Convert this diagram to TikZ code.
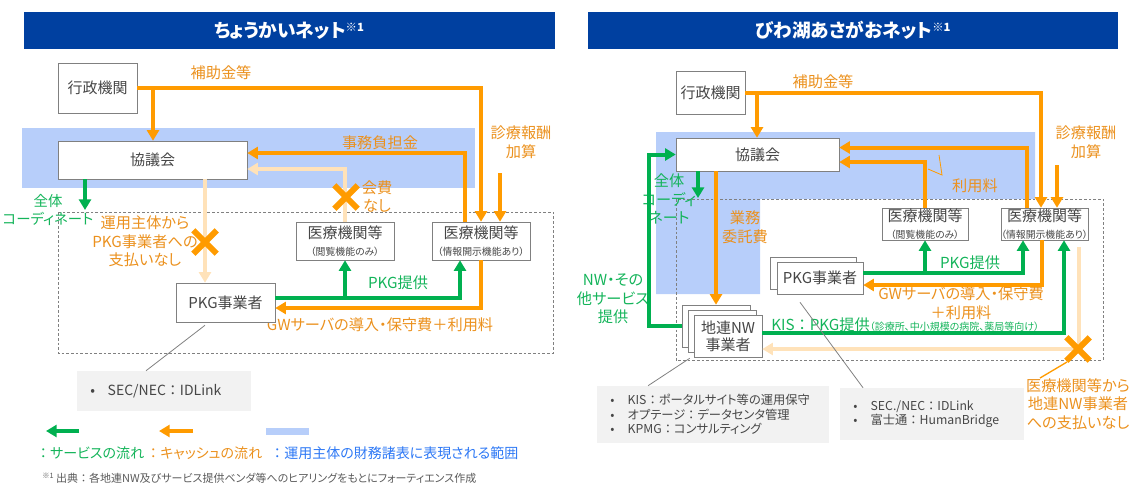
\documentclass[tikz,border=0pt]{standalone}
\usepackage{fontspec}
\setmainfont{Noto Sans CJK JP}[RawFeature=+palt]
\usepackage{tikz}
\usetikzlibrary{arrows.meta, calc, shapes.misc}

\definecolor{azultit}{RGB}{0,64,160}
\definecolor{azulrango}{RGB}{183,206,250}
\definecolor{azultxt}{RGB}{45,120,245}
\definecolor{naranja}{RGB}{255,155,0}
\definecolor{naranjatxt}{RGB}{235,145,30}
\definecolor{melocoton}{RGB}{255,226,185}
\definecolor{verde}{RGB}{0,176,80}
\definecolor{verdetxt}{RGB}{20,180,90}
\definecolor{gris}{RGB}{128,128,128}
\definecolor{textogris}{RGB}{70,70,70}
\definecolor{grisclaro}{RGB}{242,242,242}
\definecolor{grisnota}{RGB}{90,90,90}

\newcommand{\pxu}{0.75pt}
\newcommand{\subcaja}[1]{{\fontsize{7.4}{9}\selectfont #1}}
\newcommand{\vineta}{\makebox[13pt][l]{•}}
\newcommand{\dospt}{\makebox[1em][c]{：}}
\newcommand{\notauno}{\raisebox{4.5pt}{\fontsize{8.5}{9}\selectfont ※1}}

\begin{document}
\begin{tikzpicture}[x=0.75pt, y=-0.75pt,
    caja/.style 2 args={draw=gris, fill=white, text=textogris, inner sep=0pt,
        minimum width=#1*\pxu, minimum height=#2*\pxu, align=center,
        font=\fontsize{11.25}{12.5}\selectfont},
    titulo/.style={text=white, inner sep=0pt, font=\fontsize{14}{16}\selectfont\bfseries},
    etiq/.style={inner sep=0pt, align=center, font=\fontsize{11.4}{14}\selectfont},
    etiqnar/.style={etiq, text=naranjatxt},
    etiqver/.style={etiq, text=verdetxt},
    flujo/.style={line width=3pt, -{Triangle[width=9pt,length=8pt]}},
    efectivo/.style={flujo, draw=naranja},
    servicio/.style={flujo, draw=verde},
    sinpago/.style={flujo, draw=melocoton},
    cruz/.style={cross out, draw=naranja, line width=4.5pt, minimum size=13pt, inner sep=0pt},
    guia/.style={draw=gris, line width=0.6pt},
    punteado/.style={draw=gris, line width=0.7pt, dash pattern=on 2pt off 1.5pt},
    nota/.style 2 args={fill=grisclaro, text=textogris, align=left, inner xsep=10pt,
        inner ysep=0pt, text width=#1, minimum height=#2, font=\fontsize{9.2}{10.9}\selectfont},
    leyenda/.style={anchor=west, inner sep=0pt, font=\fontsize{10.5}{12}\selectfont}]
    \useasboundingbox (0,0) rectangle (1137,490);

    % Rango de los estados financieros
    \fill[azulrango] (22,128) rectangle (475,188);
    \fill[azulrango] (656,132) -- (1035,132) -- (1035,199) -- (760,199)
        -- (760,294) -- (656,294) -- cycle;

    % Barras de titulo
    \fill[azultit] (24,12) rectangle (555,49);
    \fill[azultit] (588,12) rectangle (1118,49);
    \node[titulo] (titL) at (289,30.5) {ちょうかいネット\notauno};
    \node[titulo] (titR) at (853,30.5) {びわ湖あさがおネット\notauno};

    % Zonas punteadas
    \draw[punteado] (58,212) rectangle (553,353);
    \draw[punteado] (676,199) rectangle (1103,360);

    % Etiquetas (izquierda)
    \node[etiqnar] (subL) at (221,73) {補助金等};
    \node[etiqnar] (jimL) at (380,143) {事務負担金};
    \node[etiqnar] (shinTxtL) at (521,142.5) {診療報酬\\加算};
    \node[etiqnar] (kaihiL) at (377,196.5) {会費\\なし};
    \node[etiqver, font=\fontsize{10.8}{13.5}\selectfont] (coordL) at (48,210) {全体\\コーディネート};
    \node[etiqnar] (noPagoL) at (145,241.5) {運用主体から\\PKG事業者への\\支払いなし};
    \node[etiqver] (pkgTxtL) at (398,283) {PKG提供};
    \node[etiqnar] (gwL) at (380,325) {GWサーバの導入・保守費＋利用料};

    % Etiquetas (derecha)
    \node[etiqnar] (subR) at (823,82) {補助金等};
    \node[etiqnar] (shinTxtR) at (1086,142.5) {診療報酬\\加算};
    \node[etiqnar] (riyoR) at (975,186) {利用料};
    \node[etiqver] (coordR) at (669,199) {全体\\コーディ\\ネート};
    \node[etiqnar] (itakuR) at (745,227.5) {業務\\委託費};
    \node[etiqver] (nwR) at (613,299) {NW・その\\他サービス\\提供};
    \node[etiqver] (pkgTxtR) at (970,263) {PKG提供};
    \node[etiqnar] (gwR) at (961,303.5) {GWサーバの導入・保守費\\＋利用料};
    \node[etiqver, anchor=west] (kisR) at (771,325)
        {KIS\dospt PKG提供{\fontsize{7.5}{9}\selectfont （診療所、中小規模の病院、薬局等向け）}};
    \node[etiqnar] (noPagoR) at (1078,404) {医療機関等から\\地連NW事業者\\への支払いなし};

    % Cajas (izquierda)
    \node[caja={79}{50}] (gyoL) at (97.5,88) {行政機関};
    \node[caja={189}{38}] (kyoL) at (152.5,160) {協議会};
    \node[caja={98}{38}] (iryoLa) at (345,241) {医療機関等\\\subcaja{（閲覧機能のみ）}};
    \node[caja={98}{38}] (iryoLb) at (481,241) {医療機関等\\\subcaja{（情報開示機能あり）}};
    \node[caja={99}{39}] (pkgL) at (225.5,302.5) {PKG事業者};

    % Cajas (derecha)
    \node[caja={69}{43}] (gyoR) at (710.5,92.5) {行政機関};
    \node[caja={163}{33}] (kyoR) at (757.5,154.5) {協議会};
    \node[caja={86}{32}] (iryoRa) at (925,224) {医療機関等\\\subcaja{（閲覧機能のみ）}};
    \node[caja={87}{32}] (iryoRb) at (1044.5,224) {医療機関等\\\subcaja{（情報開示機能あり）}};
    \node[caja={86}{32}] (pkgR1) at (813,273) {};
    \node[caja={86}{32}] (pkgR) at (820,278) {PKG事業者};
    \foreach \d in {2,1} {
        \node[caja={68}{42}] (chiren\d) at ({728-6*\d},{336-5*\d}) {};
    }
    \node[caja={68}{42}] (chiren) at (728,336) {地連NW\\事業者};

    % Flujos (izquierda)
    \coordinate (bifL) at (153,88);
    \coordinate (shinL) at (500,173);
    \coordinate (cooL) at (85,210);
    \coordinate (pagoL) at (205,0);
    \coordinate (pkgLo) at ($(pkgL.east)+(0,-4.5)$);
    \draw[efectivo] (gyoL.east) -| (iryoLb.north);
    \draw[efectivo] (bifL) -- (bifL |- kyoL.north);
    \draw[efectivo] (shinL) -- (shinL |- iryoLb.north);
    \draw[efectivo] ($(iryoLb.north)+(-16,0)$) |- ($(kyoL.east)+(0,-7)$);
    \draw[sinpago] (iryoLa.north) |- ($(kyoL.east)+(0,9)$);
    \draw[servicio] (kyoL.south -| cooL) -- (cooL);
    \draw[sinpago] (kyoL.south -| pagoL) -- (pkgL.north -| pagoL);
    \draw[servicio] (pkgLo) -| ($(iryoLb.south)+(-21,0)$);
    \draw[servicio] (pkgLo -| iryoLa.south) -- (iryoLa.south);
    \draw[efectivo] (iryoLb.south) |- ($(pkgL.east)+(0,5.5)$);

    % Flujos (derecha)
    \coordinate (bifR) at (757,92.5);
    \coordinate (shinR) at (1057,165);
    \coordinate (cooR) at (698,198);
    \coordinate (nwX) at (649,0);
    \coordinate (pkgRo) at ($(pkgR.east)+(0,-5)$);
    \draw[efectivo] (gyoR.east) -| ($(iryoRb.north)+(-3.5,0)$);
    \draw[efectivo] (bifR) -- (bifR |- kyoR.north);
    \draw[efectivo] (shinR) -- (shinR |- iryoRb.north);
    \draw[efectivo] ($(iryoRb.north)+(-17.5,0)$) |- ($(kyoR.east)+(0,-7)$);
    \draw[efectivo] (iryoRa.north) |- ($(kyoR.east)+(0,7.5)$);
    \draw[naranja, line width=0.6pt] (928,169) -- (942,175) -- (939,155);
    \draw[servicio] (kyoR.south -| cooR) -- (cooR);
    \draw[efectivo] (kyoR.south -| chiren2.north) -- (chiren2.north);
    \draw[servicio] (chiren2.west) -| (nwX |- kyoR.west) -- (kyoR.west);
    \draw[servicio] (pkgRo) -| ($(iryoRb.south)+(-21.5,0)$);
    \draw[servicio] (pkgRo -| iryoRa.south) -- (iryoRa.south);
    \draw[efectivo] ($(iryoRb.south)+(-2.5,0)$) |- ($(pkgR.east)+(0,7)$);
    \draw[servicio] ($(chiren.east)+(0,-3)$) -| ($(iryoRb.south)+(19.5,0)$);
    \draw[sinpago] ($(iryoRb.south)+(34.5,7)$) |- ($(chiren.east)+(0,13)$);

    % Cruces
    \node[cruz] (xL1) at (346,197) {};
    \node[cruz] (xL2) at (205,242) {};
    \node[cruz] (xR1) at (1078,349) {};
    \draw[naranja, line width=1pt] ($(xR1)+(-11,13)$) -- ($(noPagoR.north)+(-38,0)$);

    % Notas de proveedores
    \node[nota={110.5pt}{30pt}, font=\fontsize{10.5}{12}\selectfont] (notaL) at (164,391)
        {\vineta SEC/NEC\dospt IDLink};
    \node[nota={154pt}{42.75pt}] (notaRa) at (713,414.5)
        {\vineta KIS\dospt ポータルサイト等の運用保守\\\vineta オプテージ\dospt データセンタ管理\\\vineta KPMG\dospt コンサルティング};
    \node[nota={118pt}{39pt}] (notaRb) at (932,414)
        {\vineta SEC./NEC\dospt IDLink\\\vineta 富士通\dospt HumanBridge};
    \draw[guia] ($(pkgL.south)+(-20.5,3)$) -- ($(notaL.north)+(-18,0)$);
    \draw[guia] ($(chiren.south west)+(-4,1)$) -- ($(notaRa.north)+(-65,0)$);
    \draw[guia] ($(pkgR.south)+(-20,8)$) -- ($(notaRb.north)+(-69,0)$);

    % Leyenda
    \draw[servicio] (79,431) -- (46,431);
    \draw[efectivo] (193,431) -- (159,431);
    \fill[azulrango] (266,428) rectangle (309,435);
    \node[leyenda, text=verdetxt] (leyS) at (36,453) {\dospt サービスの流れ};
    \node[leyenda, text=naranjatxt] (leyC) at (146,453) {\dospt キャッシュの流れ};
    \node[leyenda, text=azultxt] (leyR) at (270,453) {\dospt 運用主体の財務諸表に表現される範囲};
    \node[anchor=west, inner sep=0pt, text=grisnota, font=\fontsize{8.25}{10}\selectfont] (fuente) at (42,478)
        {\raisebox{3pt}{\fontsize{5.5}{6}\selectfont ※1}\ 出典\dospt 各地連NW及びサービス提供ベンダ等へのヒアリングをもとにフォーティエンス作成};
\end{tikzpicture}
\end{document}
